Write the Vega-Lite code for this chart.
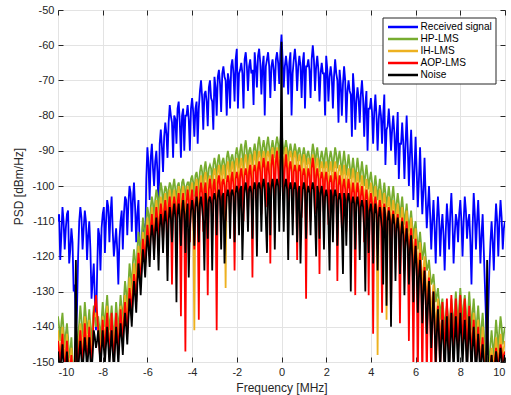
{
"$schema":"https://vega.github.io/schema/vega-lite/v6.json",
"width":447,"height":352,
"autosize":{"type":"none"},
"padding":{"left":58,"top":10,"right":6,"bottom":33},
"background":"white",
"config":{"view":{"stroke":"#262626","strokeWidth":1},"font":"Liberation Sans",
"axis":{"labelFont":"Liberation Sans","labelFontSize":11,"labelColor":"#262626","titleFont":"Liberation Sans","titleFontSize":12,"titleFontWeight":"normal","titleColor":"#262626","gridColor":"#e3e3e3","domain":false,"tickColor":"#262626","tickSize":-5,"labelPadding":9}},
"data":{"values":[
{"f":-10.0,"a":-110,"b":-137,"c":-141,"d":-144,"e":-147},
{"f":-9.95,"a":-108,"b":-140,"c":-146,"d":-147,"e":-150},
{"f":-9.9,"a":-121,"b":-144,"c":-148,"d":-150,"e":-152},
{"f":-9.85,"a":-114,"b":-139,"c":-144,"d":-146,"e":-149},
{"f":-9.8,"a":-106,"b":-136,"c":-140,"d":-142,"e":-145},
{"f":-9.75,"a":-110,"b":-141,"c":-145,"d":-148,"e":-151},
{"f":-9.7,"a":-118,"b":-146,"c":-150,"d":-152,"e":-154},
{"f":-9.65,"a":-112,"b":-142,"c":-146,"d":-149,"e":-152},
{"f":-9.6,"a":-108,"b":-139,"c":-142,"d":-144,"e":-147},
{"f":-9.55,"a":-107,"b":-143,"c":-147,"d":-150,"e":-152},
{"f":-9.5,"a":-122,"b":-149,"c":-152,"d":-154,"e":-156},
{"f":-9.45,"a":-118,"b":-147,"c":-150,"d":-152,"e":-154},
{"f":-9.4,"a":-112,"b":-143,"c":-146,"d":-148,"e":-150},
{"f":-9.35,"a":-116,"b":-149,"c":-151,"d":-153,"e":-154},
{"f":-9.3,"a":-130,"b":-153,"c":-155,"d":-156,"e":-156},
{"f":-9.25,"a":-128,"b":-152,"c":-154,"d":-152,"e":-151},
{"f":-9.2,"a":-142,"b":-149,"c":-151,"d":-144,"e":-121},
{"f":-9.15,"a":-135,"b":-146,"c":-149,"d":-148,"e":-150},
{"f":-9.1,"a":-120,"b":-142,"c":-147,"d":-150,"e":-153},
{"f":-9.05,"a":-110,"b":-139,"c":-143,"d":-145,"e":-148},
{"f":-9.0,"a":-106,"b":-134,"c":-139,"d":-141,"e":-144},
{"f":-8.95,"a":-109,"b":-138,"c":-143,"d":-146,"e":-149},
{"f":-8.9,"a":-118,"b":-143,"c":-147,"d":-150,"e":-153},
{"f":-8.85,"a":-112,"b":-139,"c":-142,"d":-145,"e":-148},
{"f":-8.8,"a":-107,"b":-133,"c":-137,"d":-139,"e":-143},
{"f":-8.75,"a":-110,"b":-137,"c":-141,"d":-145,"e":-147},
{"f":-8.7,"a":-121,"b":-142,"c":-146,"d":-149,"e":-152},
{"f":-8.65,"a":-114,"b":-139,"c":-142,"d":-146,"e":-148},
{"f":-8.6,"a":-110,"b":-135,"c":-138,"d":-140,"e":-143},
{"f":-8.55,"a":-118,"b":-140,"c":-144,"d":-146,"e":-149},
{"f":-8.5,"a":-132,"b":-145,"c":-149,"d":-151,"e":-153},
{"f":-8.45,"a":-127,"b":-139,"c":-143,"d":-145,"e":-148},
{"f":-8.4,"a":-122,"b":-134,"c":-137,"d":-136,"e":-141},
{"f":-8.35,"a":-132,"b":-137,"c":-137,"d":-134,"e":-143},
{"f":-8.3,"a":-141,"b":-140,"c":-136,"d":-131,"e":-146},
{"f":-8.25,"a":-125,"b":-139,"c":-138,"d":-136,"e":-144},
{"f":-8.2,"a":-112,"b":-137,"c":-140,"d":-141,"e":-141},
{"f":-8.15,"a":-114,"b":-140,"c":-144,"d":-146,"e":-146},
{"f":-8.1,"a":-124,"b":-144,"c":-148,"d":-150,"e":-152},
{"f":-8.05,"a":-112,"b":-138,"c":-142,"d":-144,"e":-147},
{"f":-8.0,"a":-108,"b":-133,"c":-137,"d":-138,"e":-141},
{"f":-7.95,"a":-106,"b":-137,"c":-141,"d":-143,"e":-146},
{"f":-7.9,"a":-119,"b":-140,"c":-145,"d":-147,"e":-150},
{"f":-7.85,"a":-110,"b":-135,"c":-139,"d":-141,"e":-145},
{"f":-7.8,"a":-104,"b":-131,"c":-134,"d":-136,"e":-140},
{"f":-7.75,"a":-106,"b":-136,"c":-141,"d":-142,"e":-145},
{"f":-7.7,"a":-116,"b":-141,"c":-146,"d":-148,"e":-151},
{"f":-7.65,"a":-108,"b":-138,"c":-141,"d":-143,"e":-146},
{"f":-7.6,"a":-103,"b":-134,"c":-137,"d":-136,"e":-141},
{"f":-7.55,"a":-113,"b":-139,"c":-143,"d":-144,"e":-147},
{"f":-7.5,"a":-120,"b":-144,"c":-148,"d":-150,"e":-153},
{"f":-7.45,"a":-116,"b":-139,"c":-142,"d":-144,"e":-146},
{"f":-7.4,"a":-112,"b":-133,"c":-136,"d":-136,"e":-140},
{"f":-7.35,"a":-118,"b":-137,"c":-141,"d":-142,"e":-145},
{"f":-7.3,"a":-128,"b":-142,"c":-146,"d":-148,"e":-151},
{"f":-7.25,"a":-115,"b":-136,"c":-140,"d":-141,"e":-144},
{"f":-7.2,"a":-110,"b":-131,"c":-134,"d":-135,"e":-139},
{"f":-7.15,"a":-107,"b":-135,"c":-138,"d":-140,"e":-143},
{"f":-7.1,"a":-118,"b":-138,"c":-142,"d":-144,"e":-148},
{"f":-7.05,"a":-108,"b":-132,"c":-136,"d":-138,"e":-141},
{"f":-7.0,"a":-103,"b":-127,"c":-131,"d":-133,"e":-136},
{"f":-6.95,"a":-104,"b":-130,"c":-134,"d":-137,"e":-140},
{"f":-6.9,"a":-114,"b":-135,"c":-139,"d":-142,"e":-145},
{"f":-6.85,"a":-105,"b":-128,"c":-132,"d":-135,"e":-138},
{"f":-6.8,"a":-100,"b":-122,"c":-126,"d":-129,"e":-132},
{"f":-6.75,"a":-102,"b":-125,"c":-129,"d":-132,"e":-135},
{"f":-6.7,"a":-113,"b":-130,"c":-134,"d":-137,"e":-140},
{"f":-6.65,"a":-104,"b":-122,"c":-126,"d":-130,"e":-133},
{"f":-6.6,"a":-99,"b":-118,"c":-122,"d":-125,"e":-127},
{"f":-6.55,"a":-106,"b":-121,"c":-125,"d":-128,"e":-131},
{"f":-6.5,"a":-116,"b":-126,"c":-130,"d":-133,"e":-136},
{"f":-6.45,"a":-108,"b":-118,"c":-122,"d":-125,"e":-128},
{"f":-6.4,"a":-104,"b":-113,"c":-117,"d":-119,"e":-122},
{"f":-6.35,"a":-116,"b":-116,"c":-120,"d":-123,"e":-126},
{"f":-6.3,"a":-127,"b":-121,"c":-125,"d":-128,"e":-131},
{"f":-6.25,"a":-122,"b":-114,"c":-118,"d":-121,"e":-124},
{"f":-6.2,"a":-110,"b":-109,"c":-113,"d":-115,"e":-118},
{"f":-6.15,"a":-112,"b":-112,"c":-116,"d":-118,"e":-121},
{"f":-6.1,"a":-118,"b":-116,"c":-120,"d":-123,"e":-126},
{"f":-6.05,"a":-98,"b":-110,"c":-114,"d":-116,"e":-119},
{"f":-6.0,"a":-89,"b":-106,"c":-109,"d":-111,"e":-114},
{"f":-5.95,"a":-94,"b":-108,"c":-112,"d":-115,"e":-117},
{"f":-5.9,"a":-104,"b":-113,"c":-117,"d":-120,"e":-123},
{"f":-5.85,"a":-92,"b":-106,"c":-110,"d":-112,"e":-115},
{"f":-5.8,"a":-88,"b":-103,"c":-106,"d":-108,"e":-111},
{"f":-5.75,"a":-95,"b":-105,"c":-109,"d":-112,"e":-114},
{"f":-5.7,"a":-100,"b":-110,"c":-114,"d":-118,"e":-121},
{"f":-5.65,"a":-93,"b":-104,"c":-108,"d":-111,"e":-113},
{"f":-5.6,"a":-90,"b":-101,"c":-104,"d":-106,"e":-109},
{"f":-5.55,"a":-96,"b":-103,"c":-107,"d":-110,"e":-114},
{"f":-5.5,"a":-108,"b":-108,"c":-113,"d":-117,"e":-124},
{"f":-5.45,"a":-88,"b":-102,"c":-106,"d":-109,"e":-112},
{"f":-5.4,"a":-84,"b":-99,"c":-103,"d":-105,"e":-108},
{"f":-5.35,"a":-89,"b":-101,"c":-105,"d":-108,"e":-111},
{"f":-5.3,"a":-96,"b":-106,"c":-111,"d":-116,"e":-119},
{"f":-5.25,"a":-86,"b":-102,"c":-105,"d":-107,"e":-110},
{"f":-5.2,"a":-82,"b":-100,"c":-102,"d":-104,"e":-107},
{"f":-5.15,"a":-85,"b":-101,"c":-105,"d":-108,"e":-111},
{"f":-5.1,"a":-92,"b":-106,"c":-112,"d":-120,"e":-127},
{"f":-5.05,"a":-82,"b":-101,"c":-104,"d":-106,"e":-110},
{"f":-5.0,"a":-77,"b":-99,"c":-101,"d":-103,"e":-106},
{"f":-4.95,"a":-80,"b":-100,"c":-104,"d":-107,"e":-109},
{"f":-4.9,"a":-82,"b":-105,"c":-110,"d":-128,"e":-116},
{"f":-4.85,"a":-92,"b":-100,"c":-103,"d":-106,"e":-108},
{"f":-4.8,"a":-80,"b":-98,"c":-101,"d":-103,"e":-105},
{"f":-4.75,"a":-81,"b":-101,"c":-104,"d":-106,"e":-109},
{"f":-4.7,"a":-88,"b":-106,"c":-111,"d":-114,"e":-133},
{"f":-4.65,"a":-78,"b":-100,"c":-103,"d":-105,"e":-108},
{"f":-4.6,"a":-76,"b":-99,"c":-100,"d":-102,"e":-105},
{"f":-4.55,"a":-82,"b":-101,"c":-104,"d":-108,"e":-109},
{"f":-4.5,"a":-92,"b":-105,"c":-112,"d":-137,"e":-117},
{"f":-4.45,"a":-80,"b":-99,"c":-102,"d":-105,"e":-107},
{"f":-4.4,"a":-78,"b":-98,"c":-100,"d":-102,"e":-104},
{"f":-4.35,"a":-90,"b":-100,"c":-103,"d":-110,"e":-108},
{"f":-4.3,"a":-80,"b":-106,"c":-113,"d":-147,"e":-119},
{"f":-4.25,"a":-80,"b":-100,"c":-103,"d":-105,"e":-108},
{"f":-4.2,"a":-77,"b":-99,"c":-100,"d":-101,"e":-105},
{"f":-4.15,"a":-81,"b":-99,"c":-102,"d":-104,"e":-126},
{"f":-4.1,"a":-90,"b":-104,"c":-111,"d":-116,"e":-112},
{"f":-4.05,"a":-78,"b":-98,"c":-101,"d":-104,"e":-107},
{"f":-4.0,"a":-75,"b":-97,"c":-99,"d":-101,"e":-104},
{"f":-3.95,"a":-79,"b":-99,"c":-110,"d":-105,"e":-107},
{"f":-3.9,"a":-86,"b":-103,"c":-141,"d":-118,"e":-117},
{"f":-3.85,"a":-78,"b":-97,"c":-100,"d":-103,"e":-106},
{"f":-3.8,"a":-76,"b":-96,"c":-98,"d":-100,"e":-103},
{"f":-3.75,"a":-88,"b":-98,"c":-101,"d":-106,"e":-106},
{"f":-3.7,"a":-78,"b":-102,"c":-110,"d":-138,"e":-116},
{"f":-3.65,"a":-73,"b":-96,"c":-99,"d":-102,"e":-105},
{"f":-3.6,"a":-70,"b":-94,"c":-97,"d":-99,"e":-103},
{"f":-3.55,"a":-75,"b":-96,"c":-100,"d":-102,"e":-106},
{"f":-3.5,"a":-84,"b":-101,"c":-108,"d":-113,"e":-110},
{"f":-3.45,"a":-74,"b":-95,"c":-98,"d":-101,"e":-124},
{"f":-3.4,"a":-73,"b":-93,"c":-96,"d":-99,"e":-102},
{"f":-3.35,"a":-76,"b":-96,"c":-99,"d":-104,"e":-105},
{"f":-3.3,"a":-83,"b":-100,"c":-107,"d":-131,"e":-115},
{"f":-3.25,"a":-72,"b":-95,"c":-98,"d":-101,"e":-104},
{"f":-3.2,"a":-70,"b":-94,"c":-97,"d":-98,"e":-103},
{"f":-3.15,"a":-75,"b":-95,"c":-99,"d":-101,"e":-105},
{"f":-3.1,"a":-76,"b":-100,"c":-108,"d":-112,"e":-124},
{"f":-3.05,"a":-84,"b":-94,"c":-97,"d":-100,"e":-104},
{"f":-3.0,"a":-69,"b":-92,"c":-95,"d":-98,"e":-102},
{"f":-2.95,"a":-72,"b":-94,"c":-97,"d":-103,"e":-104},
{"f":-2.9,"a":-80,"b":-98,"c":-106,"d":-141,"e":-114},
{"f":-2.85,"a":-69,"b":-93,"c":-96,"d":-99,"e":-103},
{"f":-2.8,"a":-67,"b":-91,"c":-94,"d":-97,"e":-101},
{"f":-2.75,"a":-71,"b":-94,"c":-97,"d":-100,"e":-104},
{"f":-2.7,"a":-79,"b":-97,"c":-105,"d":-111,"e":-118},
{"f":-2.65,"a":-68,"b":-93,"c":-96,"d":-99,"e":-103},
{"f":-2.6,"a":-66,"b":-92,"c":-94,"d":-98,"e":-102},
{"f":-2.55,"a":-69,"b":-94,"c":-98,"d":-100,"e":-122},
{"f":-2.5,"a":-70,"b":-98,"c":-129,"d":-110,"e":-110},
{"f":-2.45,"a":-80,"b":-92,"c":-95,"d":-99,"e":-103},
{"f":-2.4,"a":-68,"b":-90,"c":-93,"d":-97,"e":-101},
{"f":-2.35,"a":-70,"b":-92,"c":-96,"d":-99,"e":-103},
{"f":-2.3,"a":-78,"b":-96,"c":-104,"d":-109,"e":-115},
{"f":-2.25,"a":-66,"b":-92,"c":-95,"d":-98,"e":-102},
{"f":-2.2,"a":-64,"b":-91,"c":-93,"d":-96,"e":-101},
{"f":-2.15,"a":-68,"b":-93,"c":-96,"d":-100,"e":-103},
{"f":-2.1,"a":-76,"b":-97,"c":-105,"d":-124,"e":-116},
{"f":-2.05,"a":-64,"b":-91,"c":-94,"d":-98,"e":-102},
{"f":-2.0,"a":-61,"b":-89,"c":-92,"d":-96,"e":-100},
{"f":-1.95,"a":-78,"b":-91,"c":-95,"d":-98,"e":-102},
{"f":-1.9,"a":-68,"b":-95,"c":-103,"d":-108,"e":-114},
{"f":-1.85,"a":-67,"b":-90,"c":-94,"d":-97,"e":-101},
{"f":-1.8,"a":-65,"b":-88,"c":-92,"d":-95,"e":-100},
{"f":-1.75,"a":-68,"b":-91,"c":-95,"d":-98,"e":-121},
{"f":-1.7,"a":-78,"b":-95,"c":-104,"d":-110,"e":-108},
{"f":-1.65,"a":-64,"b":-89,"c":-93,"d":-97,"e":-101},
{"f":-1.6,"a":-62,"b":-87,"c":-91,"d":-95,"e":-99},
{"f":-1.55,"a":-66,"b":-90,"c":-94,"d":-97,"e":-102},
{"f":-1.5,"a":-73,"b":-95,"c":-102,"d":-108,"e":-113},
{"f":-1.45,"a":-66,"b":-90,"c":-93,"d":-96,"e":-101},
{"f":-1.4,"a":-64,"b":-89,"c":-91,"d":-94,"e":-100},
{"f":-1.35,"a":-68,"b":-91,"c":-94,"d":-98,"e":-102},
{"f":-1.3,"a":-67,"b":-94,"c":-103,"d":-126,"e":-115},
{"f":-1.25,"a":-77,"b":-90,"c":-93,"d":-96,"e":-101},
{"f":-1.2,"a":-62,"b":-88,"c":-90,"d":-94,"e":-99},
{"f":-1.15,"a":-66,"b":-90,"c":-93,"d":-96,"e":-101},
{"f":-1.1,"a":-72,"b":-94,"c":-102,"d":-107,"e":-120},
{"f":-1.05,"a":-63,"b":-88,"c":-92,"d":-95,"e":-100},
{"f":-1.0,"a":-61,"b":-86,"c":-90,"d":-93,"e":-99},
{"f":-0.95,"a":-65,"b":-89,"c":-92,"d":-96,"e":-101},
{"f":-0.9,"a":-74,"b":-94,"c":-101,"d":-108,"e":-113},
{"f":-0.85,"a":-66,"b":-89,"c":-92,"d":-95,"e":-100},
{"f":-0.8,"a":-63,"b":-87,"c":-90,"d":-92,"e":-98},
{"f":-0.75,"a":-80,"b":-89,"c":-92,"d":-95,"e":-101},
{"f":-0.7,"a":-66,"b":-93,"c":-101,"d":-106,"e":-110},
{"f":-0.65,"a":-64,"b":-88,"c":-91,"d":-95,"e":-119},
{"f":-0.6,"a":-62,"b":-86,"c":-90,"d":-93,"e":-99},
{"f":-0.55,"a":-66,"b":-89,"c":-92,"d":-97,"e":-101},
{"f":-0.5,"a":-75,"b":-93,"c":-102,"d":-122,"e":-114},
{"f":-0.45,"a":-66,"b":-89,"c":-91,"d":-94,"e":-100},
{"f":-0.4,"a":-64,"b":-87,"c":-89,"d":-91,"e":-98},
{"f":-0.35,"a":-67,"b":-89,"c":-92,"d":-95,"e":-101},
{"f":-0.3,"a":-73,"b":-92,"c":-100,"d":-107,"e":-118},
{"f":-0.25,"a":-64,"b":-88,"c":-91,"d":-93,"e":-100},
{"f":-0.2,"a":-62,"b":-86,"c":-89,"d":-90,"e":-98},
{"f":-0.15,"a":-65,"b":-88,"c":-92,"d":-95,"e":-100},
{"f":-0.1,"a":-71,"b":-92,"c":-100,"d":-104,"e":-113},
{"f":-0.05,"a":-62,"b":-87,"c":-90,"d":-93,"e":-99},
{"f":0.0,"a":-57,"b":-84,"c":-87,"d":-88,"e":-59},
{"f":0.05,"a":-64,"b":-88,"c":-91,"d":-94,"e":-100},
{"f":0.1,"a":-72,"b":-91,"c":-99,"d":-104,"e":-113},
{"f":0.15,"a":-66,"b":-89,"c":-91,"d":-95,"e":-100},
{"f":0.2,"a":-63,"b":-87,"c":-89,"d":-91,"e":-98},
{"f":0.25,"a":-66,"b":-89,"c":-92,"d":-95,"e":-101},
{"f":0.3,"a":-74,"b":-93,"c":-101,"d":-107,"e":-121},
{"f":0.35,"a":-65,"b":-90,"c":-92,"d":-95,"e":-101},
{"f":0.4,"a":-62,"b":-88,"c":-90,"d":-93,"e":-99},
{"f":0.45,"a":-80,"b":-90,"c":-92,"d":-96,"e":-101},
{"f":0.5,"a":-68,"b":-94,"c":-102,"d":-108,"e":-114},
{"f":0.55,"a":-64,"b":-90,"c":-92,"d":-96,"e":-101},
{"f":0.6,"a":-61,"b":-88,"c":-90,"d":-94,"e":-99},
{"f":0.65,"a":-65,"b":-90,"c":-92,"d":-96,"e":-101},
{"f":0.7,"a":-73,"b":-93,"c":-101,"d":-121,"e":-116},
{"f":0.75,"a":-66,"b":-90,"c":-93,"d":-96,"e":-102},
{"f":0.8,"a":-63,"b":-89,"c":-91,"d":-94,"e":-100},
{"f":0.85,"a":-66,"b":-91,"c":-93,"d":-96,"e":-122},
{"f":0.9,"a":-75,"b":-95,"c":-103,"d":-109,"e":-108},
{"f":0.95,"a":-65,"b":-91,"c":-94,"d":-97,"e":-101},
{"f":1.0,"a":-62,"b":-89,"c":-91,"d":-95,"e":-99},
{"f":1.05,"a":-78,"b":-91,"c":-93,"d":-97,"e":-101},
{"f":1.1,"a":-66,"b":-94,"c":-102,"d":-132,"e":-115},
{"f":1.15,"a":-66,"b":-91,"c":-94,"d":-98,"e":-102},
{"f":1.2,"a":-64,"b":-90,"c":-92,"d":-95,"e":-100},
{"f":1.25,"a":-67,"b":-92,"c":-94,"d":-97,"e":-102},
{"f":1.3,"a":-75,"b":-96,"c":-104,"d":-110,"e":-114},
{"f":1.35,"a":-64,"b":-91,"c":-93,"d":-95,"e":-101},
{"f":1.4,"a":-60,"b":-88,"c":-91,"d":-92,"e":-99},
{"f":1.45,"a":-64,"b":-90,"c":-93,"d":-95,"e":-101},
{"f":1.5,"a":-73,"b":-95,"c":-103,"d":-108,"e":-109},
{"f":1.55,"a":-66,"b":-91,"c":-94,"d":-97,"e":-120},
{"f":1.6,"a":-63,"b":-89,"c":-92,"d":-95,"e":-100},
{"f":1.65,"a":-67,"b":-92,"c":-95,"d":-98,"e":-102},
{"f":1.7,"a":-76,"b":-96,"c":-104,"d":-125,"e":-115},
{"f":1.75,"a":-68,"b":-92,"c":-95,"d":-98,"e":-102},
{"f":1.8,"a":-65,"b":-90,"c":-93,"d":-96,"e":-100},
{"f":1.85,"a":-68,"b":-92,"c":-95,"d":-98,"e":-103},
{"f":1.9,"a":-68,"b":-95,"c":-103,"d":-109,"e":-118},
{"f":1.95,"a":-80,"b":-91,"c":-95,"d":-98,"e":-103},
{"f":2.0,"a":-63,"b":-89,"c":-93,"d":-96,"e":-101},
{"f":2.05,"a":-67,"b":-92,"c":-95,"d":-99,"e":-103},
{"f":2.1,"a":-76,"b":-96,"c":-105,"d":-111,"e":-110},
{"f":2.15,"a":-69,"b":-92,"c":-96,"d":-99,"e":-124},
{"f":2.2,"a":-66,"b":-90,"c":-93,"d":-97,"e":-101},
{"f":2.25,"a":-69,"b":-92,"c":-96,"d":-99,"e":-103},
{"f":2.3,"a":-78,"b":-96,"c":-104,"d":-110,"e":-116},
{"f":2.35,"a":-69,"b":-92,"c":-95,"d":-99,"e":-103},
{"f":2.4,"a":-64,"b":-89,"c":-93,"d":-96,"e":-101},
{"f":2.45,"a":-68,"b":-91,"c":-95,"d":-98,"e":-103},
{"f":2.5,"a":-70,"b":-95,"c":-105,"d":-127,"e":-117},
{"f":2.55,"a":-82,"b":-92,"c":-96,"d":-100,"e":-104},
{"f":2.6,"a":-67,"b":-90,"c":-94,"d":-97,"e":-102},
{"f":2.65,"a":-71,"b":-93,"c":-96,"d":-100,"e":-104},
{"f":2.7,"a":-80,"b":-97,"c":-106,"d":-112,"e":-112},
{"f":2.75,"a":-71,"b":-93,"c":-97,"d":-100,"e":-125},
{"f":2.8,"a":-66,"b":-90,"c":-94,"d":-98,"e":-102},
{"f":2.85,"a":-70,"b":-93,"c":-97,"d":-101,"e":-104},
{"f":2.9,"a":-82,"b":-97,"c":-107,"d":-113,"e":-117},
{"f":2.95,"a":-73,"b":-94,"c":-97,"d":-101,"e":-104},
{"f":3.0,"a":-70,"b":-91,"c":-95,"d":-98,"e":-102},
{"f":3.05,"a":-73,"b":-94,"c":-98,"d":-101,"e":-105},
{"f":3.1,"a":-74,"b":-98,"c":-106,"d":-112,"e":-130},
{"f":3.15,"a":-86,"b":-95,"c":-98,"d":-102,"e":-105},
{"f":3.2,"a":-68,"b":-92,"c":-95,"d":-99,"e":-103},
{"f":3.25,"a":-73,"b":-95,"c":-98,"d":-102,"e":-105},
{"f":3.3,"a":-84,"b":-99,"c":-108,"d":-131,"e":-118},
{"f":3.35,"a":-76,"b":-95,"c":-99,"d":-102,"e":-105},
{"f":3.4,"a":-72,"b":-92,"c":-96,"d":-99,"e":-103},
{"f":3.45,"a":-75,"b":-95,"c":-99,"d":-102,"e":-106},
{"f":3.5,"a":-82,"b":-99,"c":-108,"d":-114,"e":-121},
{"f":3.55,"a":-74,"b":-96,"c":-100,"d":-103,"e":-106},
{"f":3.6,"a":-70,"b":-93,"c":-97,"d":-100,"e":-104},
{"f":3.65,"a":-75,"b":-96,"c":-100,"d":-103,"e":-106},
{"f":3.7,"a":-86,"b":-100,"c":-110,"d":-116,"e":-112},
{"f":3.75,"a":-77,"b":-97,"c":-101,"d":-104,"e":-130},
{"f":3.8,"a":-73,"b":-94,"c":-98,"d":-101,"e":-104},
{"f":3.85,"a":-90,"b":-97,"c":-101,"d":-104,"e":-107},
{"f":3.9,"a":-78,"b":-101,"c":-111,"d":-131,"e":-119},
{"f":3.95,"a":-78,"b":-98,"c":-102,"d":-105,"e":-107},
{"f":4.0,"a":-75,"b":-96,"c":-99,"d":-102,"e":-105},
{"f":4.05,"a":-79,"b":-99,"c":-102,"d":-105,"e":-108},
{"f":4.1,"a":-88,"b":-103,"c":-112,"d":-142,"e":-122},
{"f":4.15,"a":-79,"b":-100,"c":-103,"d":-106,"e":-108},
{"f":4.2,"a":-74,"b":-97,"c":-100,"d":-103,"e":-105},
{"f":4.25,"a":-80,"b":-100,"c":-104,"d":-106,"e":-108},
{"f":4.3,"a":-90,"b":-104,"c":-148,"d":-118,"e":-124},
{"f":4.35,"a":-81,"b":-101,"c":-105,"d":-107,"e":-109},
{"f":4.4,"a":-77,"b":-98,"c":-101,"d":-104,"e":-106},
{"f":4.45,"a":-80,"b":-101,"c":-104,"d":-107,"e":-109},
{"f":4.5,"a":-88,"b":-105,"c":-113,"d":-136,"e":-112},
{"f":4.55,"a":-80,"b":-102,"c":-105,"d":-108,"e":-128},
{"f":4.6,"a":-74,"b":-99,"c":-102,"d":-105,"e":-106},
{"f":4.65,"a":-94,"b":-102,"c":-105,"d":-108,"e":-109},
{"f":4.7,"a":-84,"b":-106,"c":-138,"d":-120,"e":-134},
{"f":4.75,"a":-83,"b":-103,"c":-106,"d":-109,"e":-110},
{"f":4.8,"a":-78,"b":-100,"c":-103,"d":-106,"e":-107},
{"f":4.85,"a":-83,"b":-103,"c":-106,"d":-109,"e":-110},
{"f":4.9,"a":-90,"b":-107,"c":-115,"d":-137,"e":-140},
{"f":4.95,"a":-84,"b":-103,"c":-107,"d":-110,"e":-111},
{"f":5.0,"a":-80,"b":-100,"c":-104,"d":-107,"e":-108},
{"f":5.05,"a":-85,"b":-104,"c":-107,"d":-110,"e":-111},
{"f":5.1,"a":-94,"b":-108,"c":-116,"d":-121,"e":-127},
{"f":5.15,"a":-86,"b":-105,"c":-108,"d":-111,"e":-112},
{"f":5.2,"a":-79,"b":-102,"c":-105,"d":-108,"e":-109},
{"f":5.25,"a":-98,"b":-105,"c":-109,"d":-112,"e":-113},
{"f":5.3,"a":-88,"b":-109,"c":-117,"d":-139,"e":-125},
{"f":5.35,"a":-88,"b":-106,"c":-110,"d":-113,"e":-114},
{"f":5.4,"a":-82,"b":-103,"c":-106,"d":-109,"e":-110},
{"f":5.45,"a":-88,"b":-107,"c":-110,"d":-113,"e":-114},
{"f":5.5,"a":-98,"b":-111,"c":-119,"d":-124,"e":-131},
{"f":5.55,"a":-88,"b":-108,"c":-111,"d":-114,"e":-116},
{"f":5.6,"a":-80,"b":-105,"c":-107,"d":-110,"e":-112},
{"f":5.65,"a":-89,"b":-109,"c":-112,"d":-115,"e":-117},
{"f":5.7,"a":-100,"b":-113,"c":-121,"d":-144,"e":-128},
{"f":5.75,"a":-91,"b":-110,"c":-113,"d":-116,"e":-118},
{"f":5.8,"a":-84,"b":-107,"c":-109,"d":-112,"e":-114},
{"f":5.85,"a":-93,"b":-111,"c":-114,"d":-118,"e":-120},
{"f":5.9,"a":-104,"b":-115,"c":-124,"d":-152,"e":-133},
{"f":5.95,"a":-95,"b":-112,"c":-116,"d":-120,"e":-122},
{"f":6.0,"a":-86,"b":-110,"c":-112,"d":-115,"e":-117},
{"f":6.05,"a":-96,"b":-114,"c":-118,"d":-122,"e":-124},
{"f":6.1,"a":-106,"b":-118,"c":-127,"d":-154,"e":-136},
{"f":6.15,"a":-98,"b":-116,"c":-120,"d":-124,"e":-126},
{"f":6.2,"a":-89,"b":-113,"c":-116,"d":-119,"e":-121},
{"f":6.25,"a":-99,"b":-117,"c":-122,"d":-126,"e":-128},
{"f":6.3,"a":-108,"b":-121,"c":-131,"d":-156,"e":-139},
{"f":6.35,"a":-101,"b":-119,"c":-124,"d":-128,"e":-130},
{"f":6.4,"a":-92,"b":-116,"c":-120,"d":-123,"e":-124},
{"f":6.45,"a":-103,"b":-120,"c":-126,"d":-130,"e":-132},
{"f":6.5,"a":-112,"b":-124,"c":-134,"d":-155,"e":-142},
{"f":6.55,"a":-106,"b":-123,"c":-128,"d":-132,"e":-134},
{"f":6.6,"a":-100,"b":-121,"c":-124,"d":-126,"e":-127},
{"f":6.65,"a":-108,"b":-125,"c":-130,"d":-135,"e":-136},
{"f":6.7,"a":-118,"b":-128,"c":-140,"d":-156,"e":-146},
{"f":6.75,"a":-110,"b":-127,"c":-132,"d":-138,"e":-138},
{"f":6.8,"a":-104,"b":-125,"c":-128,"d":-130,"e":-130},
{"f":6.85,"a":-112,"b":-129,"c":-134,"d":-140,"e":-140},
{"f":6.9,"a":-122,"b":-133,"c":-145,"d":-155,"e":-150},
{"f":6.95,"a":-110,"b":-131,"c":-136,"d":-141,"e":-142},
{"f":7.0,"a":-103,"b":-129,"c":-132,"d":-134,"e":-135},
{"f":7.05,"a":-109,"b":-133,"c":-138,"d":-141,"e":-143},
{"f":7.1,"a":-120,"b":-138,"c":-146,"d":-152,"e":-152},
{"f":7.15,"a":-112,"b":-134,"c":-139,"d":-141,"e":-144},
{"f":7.2,"a":-108,"b":-132,"c":-135,"d":-133,"e":-138},
{"f":7.25,"a":-114,"b":-136,"c":-141,"d":-140,"e":-145},
{"f":7.3,"a":-124,"b":-141,"c":-149,"d":-151,"e":-154},
{"f":7.35,"a":-113,"b":-137,"c":-141,"d":-139,"e":-145},
{"f":7.4,"a":-105,"b":-134,"c":-136,"d":-132,"e":-137},
{"f":7.45,"a":-110,"b":-137,"c":-141,"d":-140,"e":-146},
{"f":7.5,"a":-118,"b":-143,"c":-148,"d":-150,"e":-155},
{"f":7.55,"a":-108,"b":-137,"c":-140,"d":-139,"e":-145},
{"f":7.6,"a":-102,"b":-132,"c":-134,"d":-131,"e":-136},
{"f":7.65,"a":-110,"b":-136,"c":-140,"d":-138,"e":-144},
{"f":7.7,"a":-122,"b":-141,"c":-147,"d":-149,"e":-153},
{"f":7.75,"a":-114,"b":-135,"c":-139,"d":-139,"e":-144},
{"f":7.8,"a":-108,"b":-130,"c":-133,"d":-132,"e":-137},
{"f":7.85,"a":-110,"b":-135,"c":-139,"d":-139,"e":-144},
{"f":7.9,"a":-116,"b":-140,"c":-146,"d":-148,"e":-152},
{"f":7.95,"a":-108,"b":-134,"c":-138,"d":-138,"e":-143},
{"f":8.0,"a":-104,"b":-129,"c":-133,"d":-131,"e":-136},
{"f":8.05,"a":-110,"b":-134,"c":-138,"d":-138,"e":-143},
{"f":8.1,"a":-120,"b":-139,"c":-145,"d":-147,"e":-151},
{"f":8.15,"a":-110,"b":-134,"c":-138,"d":-138,"e":-144},
{"f":8.2,"a":-103,"b":-131,"c":-134,"d":-132,"e":-138},
{"f":8.25,"a":-107,"b":-135,"c":-139,"d":-139,"e":-145},
{"f":8.3,"a":-115,"b":-142,"c":-148,"d":-151,"e":-154},
{"f":8.35,"a":-110,"b":-136,"c":-140,"d":-141,"e":-145},
{"f":8.4,"a":-108,"b":-130,"c":-134,"d":-134,"e":-137},
{"f":8.45,"a":-116,"b":-135,"c":-140,"d":-141,"e":-145},
{"f":8.5,"a":-128,"b":-141,"c":-147,"d":-150,"e":-153},
{"f":8.55,"a":-112,"b":-136,"c":-141,"d":-143,"e":-146},
{"f":8.6,"a":-102,"b":-132,"c":-136,"d":-138,"e":-140},
{"f":8.65,"a":-108,"b":-137,"c":-142,"d":-144,"e":-147},
{"f":8.7,"a":-118,"b":-143,"c":-149,"d":-151,"e":-154},
{"f":8.75,"a":-110,"b":-138,"c":-143,"d":-145,"e":-148},
{"f":8.8,"a":-104,"b":-134,"c":-138,"d":-140,"e":-142},
{"f":8.85,"a":-112,"b":-139,"c":-144,"d":-146,"e":-148},
{"f":8.9,"a":-122,"b":-145,"c":-150,"d":-153,"e":-155},
{"f":8.95,"a":-114,"b":-140,"c":-145,"d":-147,"e":-149},
{"f":9.0,"a":-108,"b":-136,"c":-140,"d":-143,"e":-145},
{"f":9.05,"a":-118,"b":-141,"c":-146,"d":-149,"e":-150},
{"f":9.1,"a":-128,"b":-147,"c":-152,"d":-154,"e":-156},
{"f":9.15,"a":-138,"b":-150,"c":-154,"d":-151,"e":-152},
{"f":9.2,"a":-148,"b":-154,"c":-156,"d":-150,"e":-121},
{"f":9.25,"a":-136,"b":-151,"c":-154,"d":-152,"e":-153},
{"f":9.3,"a":-124,"b":-149,"c":-153,"d":-155,"e":-156},
{"f":9.35,"a":-116,"b":-145,"c":-149,"d":-151,"e":-152},
{"f":9.4,"a":-110,"b":-141,"c":-146,"d":-148,"e":-148},
{"f":9.45,"a":-116,"b":-145,"c":-149,"d":-151,"e":-152},
{"f":9.5,"a":-124,"b":-149,"c":-152,"d":-154,"e":-156},
{"f":9.55,"a":-112,"b":-143,"c":-147,"d":-149,"e":-151},
{"f":9.6,"a":-105,"b":-138,"c":-143,"d":-146,"e":-147},
{"f":9.65,"a":-110,"b":-142,"c":-147,"d":-149,"e":-150},
{"f":9.7,"a":-120,"b":-147,"c":-151,"d":-153,"e":-155},
{"f":9.75,"a":-110,"b":-141,"c":-146,"d":-148,"e":-150},
{"f":9.8,"a":-104,"b":-137,"c":-142,"d":-145,"e":-146},
{"f":9.85,"a":-109,"b":-140,"c":-145,"d":-147,"e":-149},
{"f":9.9,"a":-118,"b":-145,"c":-149,"d":-151,"e":-154},
{"f":9.95,"a":-112,"b":-142,"c":-146,"d":-148,"e":-150},
{"f":10.0,"a":-110,"b":-140,"c":-144,"d":-147,"e":-148}
]},
"transform":[{"fold":["a","b","c","d","e"],"as":["s","p"]}],
"resolve":{"axis":{"x":"independent","y":"independent"}},
"layer":[
{"mark":{"type":"line","strokeWidth":1.8,"clip":true},
"encoding":{
"x":{"field":"f","type":"quantitative","scale":{"domain":[-10,10],"nice":false,"zero":false},"axis":{"orient":"bottom","values":[-10,-8,-6,-4,-2,0,2,4,6,8,10],"title":"Frequency [MHz]","labelExpr":"toString(datum.value)","titlePadding":5}},
"y":{"field":"p","type":"quantitative","scale":{"domain":[-150,-50],"nice":false,"zero":false},"axis":{"orient":"left","values":[-150,-140,-130,-120,-110,-100,-90,-80,-70,-60,-50],"title":"PSD [dBm/Hz]","labelExpr":"toString(datum.value)","titlePadding":6}},
"color":{"field":"s","type":"nominal","scale":{"domain":["a","b","c","d","e"],"range":["#0000ff","#77ac30","#edb120","#ff0000","#000000"]},
"legend":{"orient":"none","legendX":324.5,"legendY":7.5,"title":null,"fillColor":"white","strokeColor":"#262626","padding":3,"labelFontSize":10.1,"labelColor":"#000000","symbolType":"M-3,0L3,0","symbolSize":100,"symbolStrokeWidth":2.5,"symbolOffset":11,"rowPadding":0,"labelOffset":11,
"labelExpr":"{'a':'Received signal','b':'HP-LMS','c':'IH-LMS','d':'AOP-LMS','e':'Noise'}[datum.label]"}}
}},
{"mark":{"type":"point","opacity":0},
"encoding":{
"x":{"field":"f","type":"quantitative","scale":{"domain":[-10,10],"nice":false,"zero":false},"axis":{"orient":"top","values":[-10,-8,-6,-4,-2,0,2,4,6,8,10],"labels":false,"grid":false,"title":null}},
"y":{"field":"p","type":"quantitative","scale":{"domain":[-150,-50],"nice":false,"zero":false},"axis":{"orient":"right","values":[-150,-140,-130,-120,-110,-100,-90,-80,-70,-60,-50],"labels":false,"grid":false,"title":null}}
}}
]
}
